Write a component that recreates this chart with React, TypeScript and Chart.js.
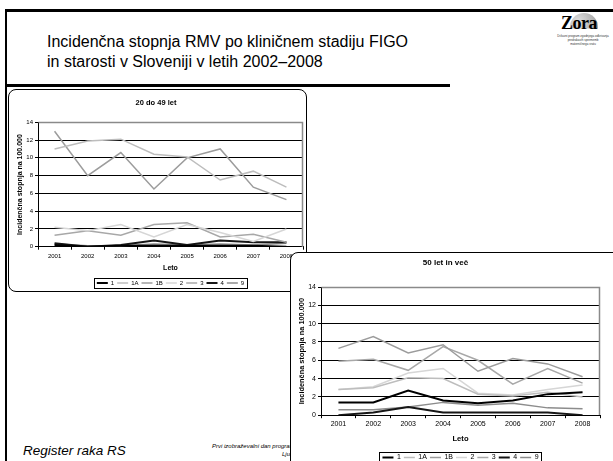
import React, { useEffect, useRef } from 'react';
import { Chart, registerables } from 'chart.js';

Chart.register(...registerables);

const years = ['2001', '2002', '2003', '2004', '2005', '2006', '2007', '2008'];
const seriesLabels = ['1', '1A', '1B', '2', '3', '4', '9'];
const seriesColors = ['#000000', '#bdbdbd', '#9c9c9c', '#d6d6d6', '#a8a8a8', '#161616', '#8c8c8c'];
const seriesWidths = [2, 1.5, 1.5, 1.5, 1.5, 2, 1.5];
const yMin = 0;
const yMax = 14;
const yStep = 2;

// 20 do 49 let
const young1 = [0.2, 0.0, 0.1, 0.1, 0.1, 0.1, 0.1, 0.0];
const young1A = [11.0, 11.9, 12.1, 10.4, 10.1, 7.5, 8.5, 6.7];
const young1B = [13.0, 8.0, 10.6, 6.5, 10.0, 11.0, 6.7, 5.3];
const young2 = [2.2, 1.8, 2.5, 1.1, 2.5, 1.6, 0.6, 2.0];
const young3 = [1.3, 1.8, 1.3, 2.5, 2.7, 1.1, 1.4, 0.5];
const young4 = [0.4, 0.0, 0.2, 0.7, 0.2, 0.7, 0.5, 0.5];
const young9 = [0.3, 0.1, 0.1, 0.3, 0.2, 0.3, 0.2, 0.4];

// 50 let in več
const older1 = [1.4, 1.4, 2.7, 1.6, 1.3, 1.6, 2.3, 2.5];
const older1A = [2.8, 3.0, 4.1, 4.0, 2.3, 2.1, 2.5, 2.0];
const older1B = [7.3, 8.6, 6.8, 7.7, 4.8, 6.2, 5.6, 4.2];
const older2 = [2.8, 3.1, 4.6, 5.1, 2.4, 2.2, 2.8, 3.3];
const older3 = [5.9, 6.1, 4.9, 7.5, 6.0, 3.4, 5.1, 3.5];
const older4 = [0.0, 0.3, 0.9, 0.3, 0.3, 0.3, 0.3, 0.0];
const older9 = [0.6, 0.6, 0.9, 1.4, 1.1, 1.3, 0.8, 0.7];

const youngSeries = [young1, young1A, young1B, young2, young3, young4, young9];
const olderSeries = [older1, older1A, older1B, older2, older3, older4, older9];

const yAxisTitle = 'Incidenčna stopnja na 100.000';
const xAxisTitle = 'Leto';
const FONT = "'Liberation Sans', Arial, Helvetica, sans-serif";

type Geo = {
  width: number;
  height: number;
  padRight: number;
  yWidth: number;
  xHeight: number;
  titleSize: number;
  titlePadTop: number;
  titlePadBottom: number;
  tickSize: number;
  yTitleSize: number;
  yTitlePad: number;
  xTitleSize: number;
  xTitlePad: number;
  xTickPad: number;
  legendSize: number;
  legendPad: number;
  legendLine: number;
  legendBoxPad: number;
};

const framePlugin = {
  id: 'grayFrame',
  beforeDatasetsDraw(chart: any) {
    const { ctx, chartArea } = chart;
    const l = Math.round(chartArea.left) + 0.5;
    const r = Math.round(chartArea.right) - 0.5;
    const t = Math.round(chartArea.top) + 0.5;
    const b = Math.round(chartArea.bottom);
    ctx.save();
    ctx.strokeStyle = '#8a8a8a';
    ctx.lineWidth = 1.5;
    ctx.beginPath();
    ctx.moveTo(l, t);
    ctx.lineTo(r, t);
    ctx.lineTo(r, b);
    ctx.stroke();
    ctx.restore();
  },
};

const legendBorderPlugin = {
  id: 'legendBorder',
  afterDraw(chart: any, _args: any, opts: any) {
    const lg = chart.legend;
    if (!lg || !lg.legendHitBoxes || !lg.legendHitBoxes.length) return;
    const hb = lg.legendHitBoxes;
    const pad = opts.pad ?? 2;
    const left = Math.min(...hb.map((h: any) => h.left)) - 3;
    const right = Math.max(...hb.map((h: any) => h.left + h.width)) + 3;
    const top = hb[0].top - pad;
    const height = hb[0].height + pad * 2;
    const { ctx } = chart;
    ctx.save();
    ctx.strokeStyle = '#000';
    ctx.lineWidth = 1;
    ctx.strokeRect(Math.round(left) + 0.5, Math.round(top) + 0.5, Math.round(right - left), Math.round(height));
    ctx.restore();
  },
};

function LineChart({ title, series, g }: { title: string; series: number[][]; g: Geo }) {
  const ref = useRef<HTMLCanvasElement | null>(null);
  useEffect(() => {
    if (!ref.current) return;
    const chart = new Chart(ref.current, {
      type: 'line',
      data: {
        labels: years,
        datasets: series.map((values, i) => ({
          label: seriesLabels[i],
          data: values,
          borderColor: seriesColors[i],
          backgroundColor: seriesColors[i],
          borderWidth: seriesWidths[i],
          pointRadius: 0,
          pointStyle: 'line',
          tension: 0,
          fill: false,
        })),
      },
      options: {
        animation: false,
        responsive: false,
        maintainAspectRatio: false,
        devicePixelRatio: 1,
        layout: { padding: { left: 0, right: g.padRight, top: 0, bottom: 0 } },
        font: { family: FONT },
        color: '#000',
        scales: {
          x: {
            type: 'category',
            offset: true,
            afterFit: (s: any) => {
              s.height = g.xHeight;
            },
            grid: {
              display: true,
              drawOnChartArea: false,
              drawTicks: true,
              tickLength: 3,
              offset: true,
              color: '#000',
              tickColor: '#000',
            },
            border: { display: true, color: '#000', width: 1 },
            ticks: {
              color: '#000',
              font: { family: FONT, size: g.tickSize },
              maxRotation: 0,
              autoSkip: false,
              padding: g.xTickPad,
            },
            title: {
              display: true,
              text: xAxisTitle,
              color: '#000',
              font: { family: FONT, size: g.xTitleSize, weight: 'bold' },
              padding: { top: 0, bottom: g.xTitlePad },
            },
          },
          y: {
            min: yMin,
            max: yMax,
            afterFit: (s: any) => {
              s.width = g.yWidth;
            },
            ticks: {
              stepSize: yStep,
              color: '#000',
              font: { family: FONT, size: g.tickSize },
              padding: 2,
            },
            grid: {
              color: (c: any) => (c.tick && c.tick.value === yMax ? 'rgba(0,0,0,0)' : '#000'),
              tickColor: '#000',
              tickLength: 3,
              lineWidth: 1,
            },
            border: { display: true, color: '#000', width: 1 },
            title: {
              display: true,
              text: yAxisTitle,
              color: '#000',
              font: { family: FONT, size: g.yTitleSize, weight: 'bold' },
              padding: { top: g.yTitlePad, bottom: 0 },
            },
          },
        },
        plugins: {
          title: {
            display: true,
            text: title,
            color: '#000',
            font: { family: FONT, size: g.titleSize, weight: 'bold' },
            padding: { top: g.titlePadTop, bottom: g.titlePadBottom },
          },
          legend: {
            display: true,
            position: 'bottom',
            fullSize: false,
            labels: {
              usePointStyle: true,
              pointStyleWidth: g.legendLine,
              color: '#000',
              font: { family: FONT, size: g.legendSize },
              padding: g.legendPad,
            },
          },
          tooltip: { enabled: false },
          legendBorder: { pad: g.legendBoxPad },
        } as any,
      },
      plugins: [framePlugin, legendBorderPlugin],
    } as any);
    return () => chart.destroy();
  }, [title, series, g]);
  return <canvas ref={ref} width={g.width} height={g.height} style={{ display: 'block', width: g.width, height: g.height }} />;
}

const geoYoung: Geo = {
  width: 297,
  height: 206,
  padRight: 3,
  yWidth: 29,
  xHeight: 30.3,
  titleSize: 7.5,
  titlePadTop: 8.5,
  titlePadBottom: 14.8,
  tickSize: 6,
  yTitleSize: 7,
  yTitlePad: 6.8,
  xTitleSize: 7,
  xTitlePad: 4.8,
  xTickPad: 3,
  legendSize: 6,
  legendPad: 3,
  legendLine: 11,
  legendBoxPad: 2,
};

const geoOlder: Geo = {
  width: 323,
  height: 218,
  padRight: 14,
  yWidth: 30,
  xHeight: 35.8,
  titleSize: 8,
  titlePadTop: 5.2,
  titlePadBottom: 19.2,
  tickSize: 7,
  yTitleSize: 7.4,
  yTitlePad: 6.5,
  xTitleSize: 7.6,
  xTitlePad: 7.9,
  xTickPad: 2,
  legendSize: 7,
  legendPad: 3,
  legendLine: 11,
  legendBoxPad: 2.5,
};

export default function App() {
  return (
    <div
      style={{
        position: 'absolute',
        left: 0,
        top: 0,
        width: 613,
        height: 461,
        overflow: 'hidden',
        background: '#fff',
        fontFamily: FONT,
        color: '#000',
      }}
    >
      {/* slide frame */}
      <div style={{ position: 'absolute', left: 5, top: 9, width: 608, height: 3, background: '#000' }} />
      <div style={{ position: 'absolute', left: 5, top: 9, width: 2, height: 452, background: '#000' }} />
      <div style={{ position: 'absolute', left: 5, top: 84, width: 445, height: 3, background: '#000' }} />

      {/* title */}
      <div
        style={{
          position: 'absolute',
          left: 47,
          top: 32,
          fontSize: 16,
          lineHeight: '20px',
          whiteSpace: 'nowrap',
        }}
      >
        <div>Incidenčna stopnja RMV po kliničnem stadiju FIGO</div>
        <div>in starosti v Sloveniji v letih 2002–2008</div>
      </div>

      {/* logo */}
      <div style={{ position: 'absolute', left: 556, top: 12, width: 56, height: 36 }}>
        <div
          style={{
            position: 'absolute',
            left: 14,
            top: 1,
            width: 28,
            height: 28,
            borderRadius: '50%',
            background: 'radial-gradient(circle at 30% 30%, #e0e0e0, #8a8a8a)',
            clipPath: 'inset(0 0 45% 0)',
          }}
        />
        <div
          style={{
            position: 'absolute',
            left: 5,
            top: 1,
            fontFamily: "'Liberation Serif', 'DejaVu Serif', serif",
            fontSize: 18,
            lineHeight: '20px',
            fontWeight: 'bold',
            letterSpacing: -0.5,
          }}
        >
          Zora
        </div>
        <div
          style={{
            position: 'absolute',
            left: -4,
            top: 22,
            width: 62,
            textAlign: 'center',
            fontSize: 3,
            lineHeight: '4px',
            color: '#333',
          }}
        >
          <div>Državni program zgodnjega odkrivanja</div>
          <div>predrakavih sprememb</div>
          <div>materničnega vratu</div>
        </div>
      </div>

      {/* footer */}
      <div style={{ position: 'absolute', left: 23, top: 443, fontSize: 13.5, fontStyle: 'italic', lineHeight: '16px', whiteSpace: 'nowrap' }}>
        Register raka RS
      </div>
      <div style={{ position: 'absolute', left: 212, top: 442, fontSize: 6, fontStyle: 'italic', lineHeight: '8px', whiteSpace: 'nowrap' }}>
        Prvi izobraževalni dan programa ZORA
      </div>
      <div style={{ position: 'absolute', left: 282, top: 450, fontSize: 6, fontStyle: 'italic', lineHeight: '8px', whiteSpace: 'nowrap' }}>
        Ljubljana
      </div>

      {/* chart 1 */}
      <div
        style={{
          position: 'absolute',
          left: 8,
          top: 89,
          width: 297,
          height: 201,
          border: '1px solid #000',
          borderRadius: 8,
          overflow: 'hidden',
          background: '#fff',
        }}
      >
        <LineChart title="20 do 49 let" series={youngSeries} g={geoYoung} />
      </div>

      {/* chart 2 */}
      <div
        style={{
          position: 'absolute',
          left: 290,
          top: 252,
          width: 330,
          height: 230,
          border: '1px solid #000',
          borderRadius: 8,
          overflow: 'hidden',
          background: '#fff',
        }}
      >
        <LineChart title="50 let in več" series={olderSeries} g={geoOlder} />
      </div>
    </div>
  );
}
